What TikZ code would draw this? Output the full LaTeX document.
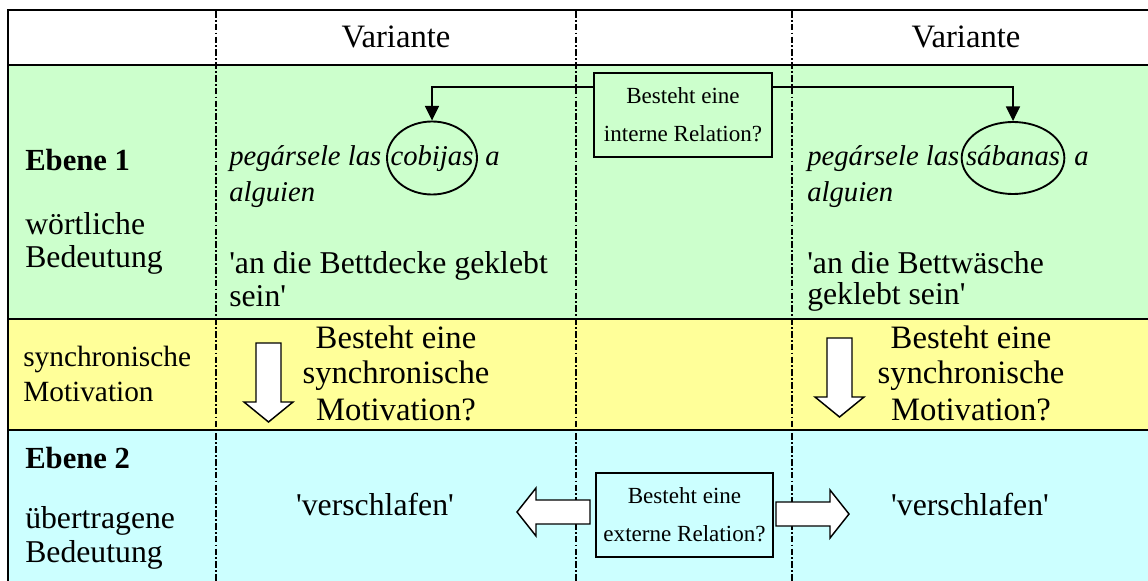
\documentclass[tikz,border=0pt]{standalone}
\usepackage{fontspec}
\setmainfont{Liberation Serif}
\usetikzlibrary{arrows.meta,shapes.geometric}

\definecolor{rowgreen}{HTML}{CCFFCC}
\definecolor{rowyellow}{HTML}{FFFF99}
\definecolor{rowcyan}{HTML}{CCFFFF}

\tikzset{
  rule/.style={line width=1.5pt},
  colsep/.style={line width=1.1pt, dash pattern=on 5pt off 1.6pt on 1.4pt off 1.6pt},
  txt/.style={inner sep=0pt, font=\fontsize{23.8}{28}\selectfont},
  headtxt/.style={inner sep=0pt, font=\fontsize{24.5}{29}\selectfont},
  boldtxt/.style={inner sep=0pt, font=\fontsize{23}{28}\selectfont\bfseries},
  ittxt/.style={inner sep=0pt, font=\fontsize{21.5}{26}\selectfont\itshape},
  lefttxt/.style={inner sep=0pt, font=\fontsize{22}{26}\selectfont},
  questtxt/.style={inner sep=0pt, font=\fontsize{24.5}{29}\selectfont},
  qbox/.style={draw, line width=1.7pt, inner sep=0pt, align=center,
    minimum width=133pt, minimum height=63pt,
    font=\fontsize{17.3}{28.5}\selectfont},
  ring/.style={ellipse, draw, line width=1.4pt, inner sep=0pt},
  conn/.style={line width=1.1pt, -{Triangle[length=11pt,width=10.5pt]}},
  blockarrow/.style={draw, line width=1.1pt, fill=white, line join=miter},
  downarrow/.pic={\path[blockarrow] (-12.5,0) -- (12.5,0) -- (12.5,59) -- (24.5,59)
      -- (0,79) -- (-24.5,59) -- (-12.5,59) -- cycle;},
  rightarrow/.pic={\path[blockarrow] (0,-12) -- (54,-12) -- (54,-24) -- (73,0)
      -- (54,24) -- (54,12) -- (0,12) -- cycle;}
}

\begin{document}
\begin{tikzpicture}[x=0.75pt, y=-0.75pt]
\useasboundingbox (0,0) rectangle (1148,581);

% row backgrounds
\fill[white] (0,0) rectangle (1148,581);
\fill[rowgreen] (8,65) rectangle (1148,319);
\fill[rowyellow] (8,319) rectangle (1148,430);
\fill[rowcyan] (8,430) rectangle (1148,581);

% column separators
\foreach \cx in {216,576,792} \draw[colsep] (\cx,11) -- (\cx,581);

% row rules
\foreach \ry in {10,65,319,430} \draw[rule] (7.25,\ry) -- (1148,\ry);
\draw[rule] (8,9.25) -- (8,581);

% header
\node[headtxt, anchor=base] (var1) at (396,48) {Variante};
\node[headtxt, anchor=base] (var2) at (966,48) {Variante};

% level 1: literal meaning
\node[boldtxt, anchor=base west] (eb1) at (25,171) {Ebene 1};
\node[txt, anchor=base west] (lit1) at (25,234) {wörtliche};
\node[txt, anchor=base west] (lit2) at (25,267) {Bedeutung};

\node[ittxt, anchor=base west] (pl1) at (229,166) {pegársele las};
\node[ring, minimum width=67.5pt, minimum height=54.75pt] (cob) at (432,158) {};
\node[ittxt, anchor=base] (cobw) at (432,166) {cobijas};
\node[ittxt, anchor=base west] (pa1) at (485,166) {a};
\node[ittxt, anchor=base west] (pal1) at (229,201) {alguien};
\node[txt, anchor=base west] (gl1) at (229,273) {\textquotesingle an die Bettdecke geklebt};
\node[txt, anchor=base west] (gl2) at (229,306) {sein\textquotesingle};

\node[ittxt, anchor=base west] (pl2) at (807,166) {pegársele las};
\node[ring, minimum width=77pt, minimum height=54pt] (sab) at (1013,158) {};
\node[ittxt, anchor=base] (sabw) at (1013,166) {sábanas};
\node[ittxt, anchor=base west] (pa2) at (1074,166) {a};
\node[ittxt, anchor=base west] (pal2) at (807,201) {alguien};
\node[txt, anchor=base west] (gr1) at (807,273) {\textquotesingle an die Bettwäsche};
\node[txt, anchor=base west] (gr2) at (807,304) {geklebt sein\textquotesingle};

% internal relation
\node[qbox, fill=rowgreen] (intbox) at (683,115) {Besteht eine\\interne Relation?};
\draw[conn] ([yshift=-11.25pt]intbox.north west) -| (cob.north);
\draw[conn] ([yshift=-11.25pt]intbox.north east) -| (sab.north);

% synchronic motivation
\node[lefttxt, anchor=base west] (sm1) at (23,366) {synchronische};
\node[lefttxt, anchor=base west] (sm2) at (23,401) {Motivation};

\pic at (268.5,343) {downarrow};
\node[questtxt, anchor=base] (q1a) at (396,348) {Besteht eine};
\node[questtxt, anchor=base] (q1b) at (396,383) {synchronische};
\node[questtxt, anchor=base] (q1c) at (396,420) {Motivation?};

\pic at (839.5,338) {downarrow};
\node[questtxt, anchor=base] (q2a) at (971,348) {Besteht eine};
\node[questtxt, anchor=base] (q2b) at (971,383) {synchronische};
\node[questtxt, anchor=base] (q2c) at (971,420) {Motivation?};

% level 2: figurative meaning
\node[boldtxt, anchor=base west] (eb2) at (25,468) {Ebene 2};
\node[txt, anchor=base west] (fig1) at (25,528) {übertragene};
\node[txt, anchor=base west] (fig2) at (25,562) {Bedeutung};

\node[txt, anchor=base] (vs1) at (375,515) {\textquotesingle verschlafen\textquotesingle};
\node[txt, anchor=base] (vs2) at (970,515) {\textquotesingle verschlafen\textquotesingle};

% external relation
\node[qbox, fill=rowcyan, minimum width=132.75pt] (extbox) at (684.5,515) {Besteht eine\\externe Relation?};
\pic[xscale=-1] at (590,512) {rightarrow};
\pic at (776,514) {rightarrow};
\end{tikzpicture}
\end{document}
